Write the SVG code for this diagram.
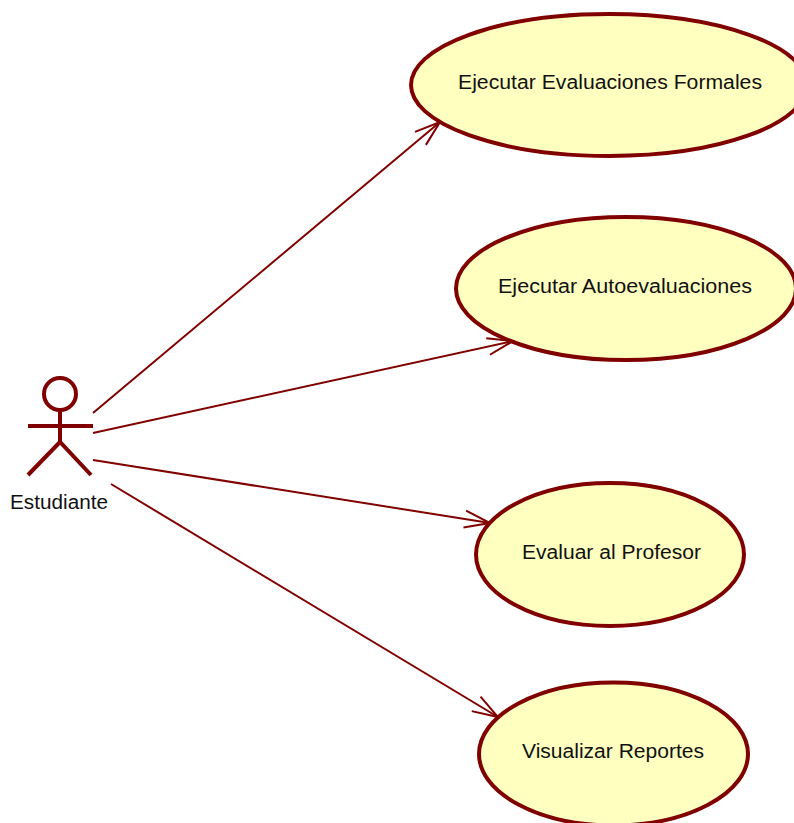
<svg xmlns="http://www.w3.org/2000/svg" width="794" height="823" viewBox="0 0 794 823">
<style>
.uc{fill:#ffffc0;stroke:#800000;stroke-width:4}
.t{font-family:"Liberation Sans",Arial,sans-serif;font-size:20px;fill:#111}
.a{fill:none;stroke:#800000;stroke-width:4}
.c{fill:none;stroke:#800000;stroke-width:2}
</style>
<defs>
<marker id="arr" markerUnits="userSpaceOnUse" markerWidth="34" markerHeight="34" refX="30" refY="16" orient="auto" viewBox="0 0 34 34">
<path d="M4.500 7.500L30 16L4.500 24.500" fill="none" stroke="#800000" stroke-width="2"/>
</marker>
</defs>
<rect width="794" height="823" fill="#fff"/>
<g id="connectors">
<path class="c" d="M93 413L440 122" marker-end="url(#arr)"/>
<path class="c" d="M93 433L513 341" marker-end="url(#arr)"/>
<path class="c" d="M93 460L490 523" marker-end="url(#arr)"/>
<path class="c" d="M111 484L498 717" marker-end="url(#arr)"/>
</g>
<g id="actor">
<circle class="a" cx="60" cy="394" r="16"/>
<path class="a" d="M60 410V442M28 426H93M28 475L60 442L91 475"/>
<text class="t" x="10" y="509" textLength="98" lengthAdjust="spacingAndGlyphs">Estudiante</text>
</g>
<g id="uc1">
<ellipse class="uc" cx="609" cy="85" rx="198" ry="71"/>
<text class="t" x="458" y="89" textLength="304" lengthAdjust="spacingAndGlyphs">Ejecutar Evaluaciones Formales</text>
</g>
<g id="uc2">
<ellipse class="uc" cx="626" cy="288.500" rx="170" ry="71.500"/>
<text class="t" x="498" y="293" textLength="254" lengthAdjust="spacingAndGlyphs">Ejecutar Autoevaluaciones</text>
</g>
<g id="uc3">
<ellipse class="uc" cx="610" cy="554.500" rx="134" ry="71.500"/>
<text class="t" x="522" y="559" textLength="179" lengthAdjust="spacingAndGlyphs">Evaluar al Profesor</text>
</g>
<g id="uc4">
<ellipse class="uc" cx="613.500" cy="754" rx="134.500" ry="71.500"/>
<text class="t" x="522" y="758" textLength="182" lengthAdjust="spacingAndGlyphs">Visualizar Reportes</text>
</g>
</svg>
